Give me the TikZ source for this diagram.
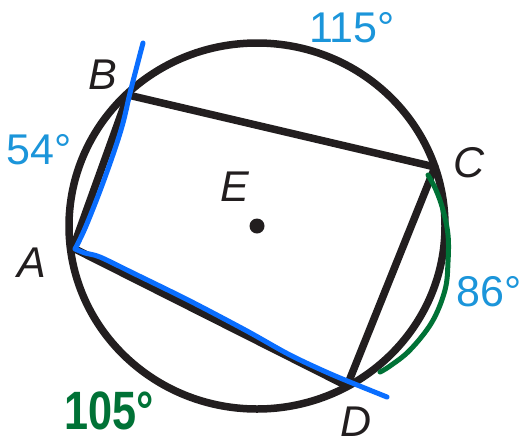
\documentclass[tikz,border=0pt]{standalone}
\usepackage{fontspec}
\setmainfont{Liberation Sans}
\definecolor{ink}{HTML}{221E1F}
\definecolor{labblue}{HTML}{1B95DA}
\definecolor{penblue}{HTML}{0A6EFF}
\definecolor{pengreen}{HTML}{007236}
\begin{document}
\begin{tikzpicture}[x=1pt,y=-1pt,
  chord/.style={line width=7.5pt, draw=ink, line join=round},
  pen/.style={line width=5pt, line cap=round, line join=round},
  arclab/.style={text=labblue, font=\fontsize{43}{43}\selectfont, inner sep=0pt, anchor=south west},
  ptlab/.style={text=ink, font=\fontsize{43}{43}\selectfont\itshape, inner sep=0pt, anchor=south west},
  handlab/.style={text=pengreen, font=\fontsize{54}{54}\selectfont\bfseries, inner sep=0pt, anchor=south west, xscale=0.8}]
\useasboundingbox (0,0) rectangle (524,445);
\fill[white] (0,0) rectangle (524,445);
\coordinate (E) at (257,226);
\coordinate (A) at (73,248);
\coordinate (B) at (128,95);
\coordinate (C) at (435,167);
\coordinate (D) at (347,386);
% circle
\draw[chord] (E) ellipse [x radius=188pt, y radius=183pt];
% quadrilateral
\draw[chord] (A) -- (B) -- (C) -- (D) -- cycle;
% centre
\fill[ink] (E) circle (7.5pt);
% blue pen strokes
\draw[pen, penblue] plot[smooth, tension=0.6] coordinates {(143,43) (138,62) (130,93) (121,130) (104,180) (86,226) (75,249)}
  plot[smooth, tension=0.5] coordinates {(75,249) (85,253) (100,257) (133,273) (190,301) (247,331) (290,355) (333,375) (387,397)};
% green pen stroke
\draw[pen, pengreen] plot[smooth, tension=0.6] coordinates {(428,175) (436,190) (443,210) (448,235) (448,262) (445,290) (432,322) (410,350) (390,366) (380,372)};
% labels
\node[arclab] (l115) at (309,43) {115°};
\node[arclab] (l54) at (6,165) {54°};
\node[arclab] (l86) at (456,307) {86°};
\node[ptlab] (lB) at (88,90) {B};
\node[ptlab] (lE) at (220,202) {E};
\node[ptlab] (lA) at (17,278) {A};
\node[ptlab] (lC) at (453,178) {C};
\node[ptlab] (lD) at (340,437) {D};
\node[handlab] (l105) at (64,430) {105°};
\end{tikzpicture}
\end{document}
